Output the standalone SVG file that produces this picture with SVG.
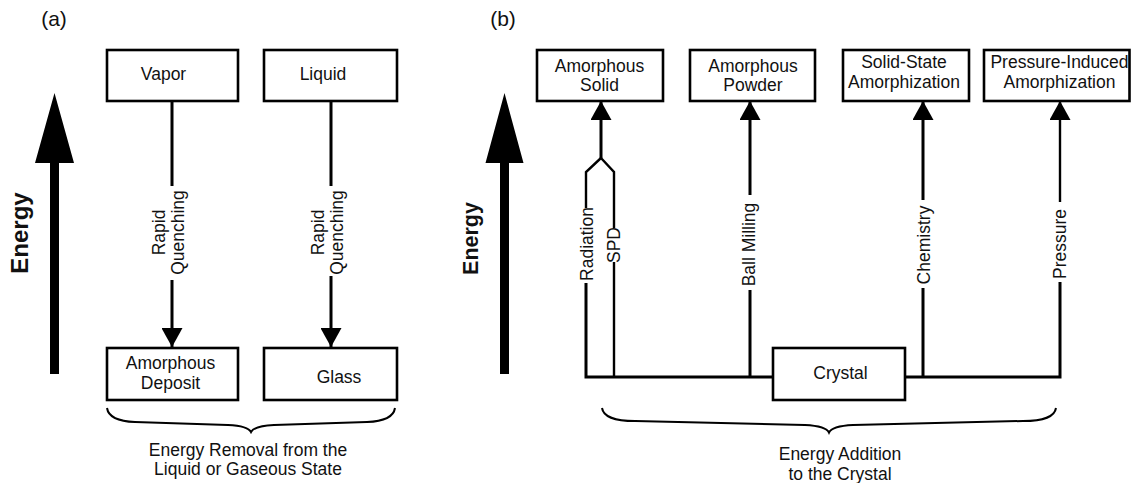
<svg xmlns="http://www.w3.org/2000/svg" width="1132" height="483" viewBox="0 0 1132 483">
<style>
text{font-family:"Liberation Sans",Arial,Helvetica,sans-serif;font-size:17.5px;fill:#111;}
.c{text-anchor:middle;}
.box{fill:#fff;stroke:#000;stroke-width:2.6;}
.ln{fill:none;stroke:#000;stroke-width:3;}
.thin{fill:none;stroke:#000;stroke-width:2.4;}
.brace{fill:none;stroke:#000;stroke-width:2;}
.big{fill:#000;}
.en{font-weight:bold;text-anchor:middle;}
</style>
<defs>
<marker id="ah" markerUnits="userSpaceOnUse" markerWidth="19" markerHeight="21" viewBox="0 0 19 21" refX="19" refY="10.5" orient="auto">
<path d="M0,0 L19,10.5 L0,21 z" fill="#000"/>
</marker>
</defs>
<rect width="1132" height="483" fill="#fff"/>

<!-- Panel labels -->
<text x="54" y="26" class="c" style="font-size:21px">(a)</text>
<text x="503" y="26" class="c" style="font-size:21px">(b)</text>

<!-- Energy arrows -->
<g id="energy-a">
<path class="big" d="M54.5,93 L74,163 L59,163 L59,374 L50,374 L50,163 L35,163 Z"/>
<text class="en" transform="translate(28,233) rotate(-90)" style="font-size:24px">Energy</text>
</g>
<g id="energy-b">
<path class="big" d="M504.5,93 L523.5,163 L509,163 L509,374 L500,374 L500,163 L485.5,163 Z"/>
<text class="en" transform="translate(477.5,238.5) rotate(-90)" style="font-size:21.5px">Energy</text>
</g>

<!-- Connectors -->
<g id="connectors">
<path class="ln" d="M172,101 V186 M172,280 V347" marker-end="url(#ah)"/>
<path class="ln" d="M331,101 V186 M331,276 V347" marker-end="url(#ah)"/>
<path class="thin" d="M586,208 V172 L601,158"/>
<path class="thin" d="M614,228 V172 L601,158"/>
<path class="ln" d="M601,158 V101" marker-end="url(#ah)"/>
<path class="ln" d="M586,283 V377 H1060 V282"/>
<path class="thin" d="M614,262 V377"/>
<path class="ln" d="M750,377 V290 M750,195 V101" marker-end="url(#ah)"/>
<path class="ln" d="M923,377 V288 M923,200 V101" marker-end="url(#ah)"/>
<path class="thin" d="M1060,202 V101" marker-end="url(#ah)"/>
</g>

<!-- Connector labels -->
<g id="labels">
<text class="c" transform="translate(172,232.5) rotate(-90)"><tspan x="0" y="-7">Rapid</tspan><tspan x="0" y="11.5">Quenching</tspan></text>
<text class="c" transform="translate(331,232.5) rotate(-90)"><tspan x="0" y="-7">Rapid</tspan><tspan x="0" y="11.5">Quenching</tspan></text>
<text class="c" transform="translate(592.5,244) rotate(-90)">Radiation</text>
<text class="c" transform="translate(620,245) rotate(-90)">SPD</text>
<text class="c" transform="translate(755,244.5) rotate(-90)">Ball Milling</text>
<text class="c" transform="translate(929.5,245) rotate(-90)">Chemistry</text>
<text class="c" transform="translate(1066,244) rotate(-90)">Pressure</text>
</g>

<!-- Panel (a) nodes -->
<g id="vapor">
<rect class="box" x="107" y="50" width="131" height="51"/>
<text class="c" x="163.5" y="80">Vapor</text>
</g>
<g id="liquid">
<rect class="box" x="264" y="50" width="133" height="51"/>
<text class="c" x="323" y="80">Liquid</text>
</g>
<g id="amorphous-deposit">
<rect class="box" x="107" y="348" width="131" height="52"/>
<text class="c" x="170.5" y="369">Amorphous</text>
<text class="c" x="170.5" y="389">Deposit</text>
</g>
<g id="glass">
<rect class="box" x="264" y="348" width="133" height="52"/>
<text class="c" x="339" y="382.5">Glass</text>
</g>

<!-- Panel (b) nodes -->
<g id="amorphous-solid">
<rect class="box" x="537" y="50" width="126" height="51"/>
<text class="c" x="599.5" y="71.5">Amorphous</text>
<text class="c" x="599.5" y="91">Solid</text>
</g>
<g id="amorphous-powder">
<rect class="box" x="690" y="50" width="125" height="51"/>
<text class="c" x="753" y="71.5">Amorphous</text>
<text class="c" x="753" y="91">Powder</text>
</g>
<g id="solid-state">
<rect class="box" x="843" y="50" width="126" height="51"/>
<text class="c" x="904" y="68">Solid-State</text>
<text class="c" x="904" y="87.5">Amorphization</text>
</g>
<g id="pressure-induced">
<rect class="box" x="984" y="50" width="145.5" height="51"/>
<text class="c" x="1059.5" y="68">Pressure-Induced</text>
<text class="c" x="1059.5" y="87.5">Amorphization</text>
</g>
<g id="crystal">
<rect class="box" x="773" y="348" width="132" height="52"/>
<text class="c" x="840.5" y="378.5">Crystal</text>
</g>

<!-- Braces and captions -->
<g id="brace-a">
<path class="brace" d="M107,408 Q109,421 135,422 L228,425 Q248,426 251,432 Q254,426 274,425 L367,422 Q393,421 395,408"/>
<text class="c" x="248" y="455.5">Energy Removal from the</text>
<text class="c" x="248" y="475">Liquid or Gaseous State</text>
</g>
<g id="brace-b">
<path class="brace" d="M602,408 Q604,421 635,421 L805,425 Q826,426 829,432.5 Q832,426 853,425 L1023,421 Q1054,421 1056,408"/>
<text class="c" x="840" y="459.5">Energy Addition</text>
<text class="c" x="840" y="479.5">to the Crystal</text>
</g>
</svg>
